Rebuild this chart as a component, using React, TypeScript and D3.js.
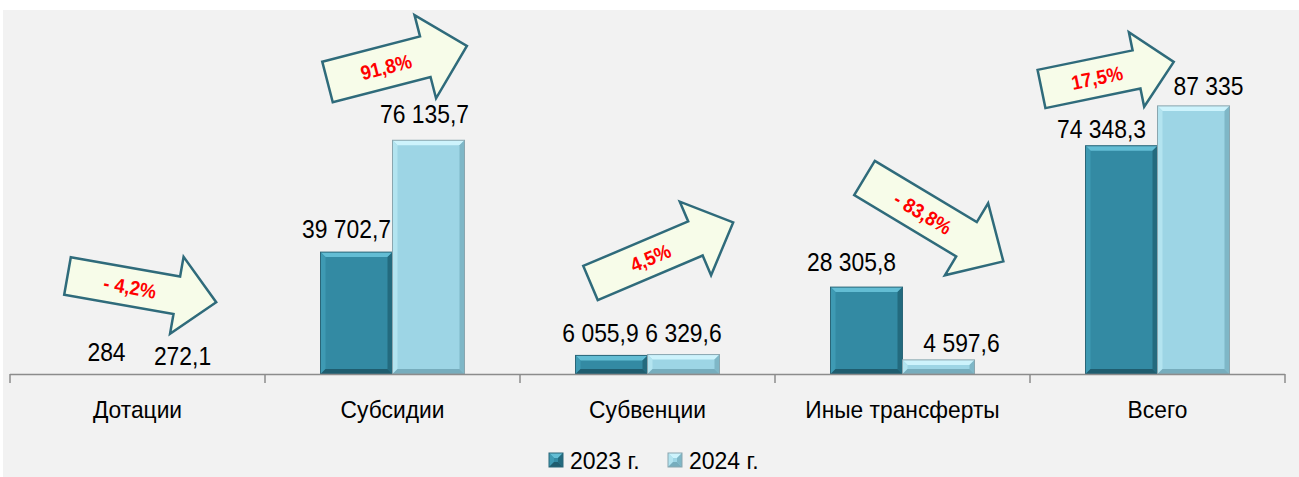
import React from "react";
import * as d3 from "d3";

// categories and series
const categories = ["Дотации", "Субсидии", "Субвенции", "Иные трансферты", "Всего"];
const seriesNames = ["2023 г.", "2024 г."];
const values2023 = [284, 39702.7, 6055.9, 28305.8, 74348.3];
const values2024 = [272.1, 76135.7, 6329.6, 4597.6, 87335];

// manual label nudges (px), like the hand-moved labels in the original
const labelNudge2023 = [[5, 0], [-10, -2], [-11, -1], [-15, -4], [-20, 4]];
const labelNudge2024 = [[9, 4], [-4, -5], [0, -1], [23, 4], [15, 1]];

// arrow layout: tail offset from group center, tail y, angle, length, shaft, head width, head length
const arrowLayout = [
  { dx: -70, y: 276, angle: 10, len: 151, t: 38, hw: 78, hl: 40 },
  { dx: -65, y: 82, angle: -14.5, len: 144, t: 42, hw: 86, hl: 43 },
  { dx: -57, y: 283, angle: -23, len: 155, t: 37, hw: 80, hl: 41 },
  { dx: -38, y: 178, angle: 31, len: 162, t: 40, hw: 84, hl: 43 },
  { dx: -116, y: 89, angle: -11.6, len: 135, t: 39, hw: 76, hl: 38 },
];

const W = 1299;
const H = 477;
const FONT = "'Liberation Sans', Arial, sans-serif";

const palette = [
  { main: "#338aa3", top: "#63bdd4", left: "#3e9ab3", right: "#236a7e", bottom: "#1f5d6f", stroke: "#2a6678" },
  { main: "#9dd5e5", top: "#cdf3fc", left: "#b3e4f0", right: "#7fb7c7", bottom: "#77adbd", stroke: "#8aa6af" },
];

const fmt = (v: number) => {
  const s = d3.format(",")(v);
  return s.replace(/,/g, " ").replace(".", ",");
};

const pct = (a: number, b: number) => {
  const p = (b / a - 1) * 100;
  const s = Math.abs(p).toFixed(1).replace(".", ",") + "%";
  return p < 0 ? "- " + s : s;
};

function BevelBar({ x, y, w, h, c }: any) {
  if (h < 1.5) return null;
  const b = Math.max(0, Math.min(5, h / 2, w / 2));
  return (
    <g>
      <rect x={x} y={y} width={w} height={h} fill={c.main} />
      <polygon points={`${x},${y} ${x + w},${y} ${x + w - b},${y + b} ${x + b},${y + b}`} fill={c.top} />
      <polygon points={`${x},${y} ${x + b},${y + b} ${x + b},${y + h - b} ${x},${y + h}`} fill={c.left} />
      <polygon points={`${x + w},${y} ${x + w},${y + h} ${x + w - b},${y + h - b} ${x + w - b},${y + b}`} fill={c.right} />
      <polygon points={`${x},${y + h} ${x + b},${y + h - b} ${x + w - b},${y + h - b} ${x + w},${y + h}`} fill={c.bottom} />
      <rect x={x} y={y} width={w} height={h} fill="none" stroke={c.stroke} strokeWidth={1} />
    </g>
  );
}

export default function App() {
  const baseY = 374;
  const x0 = d3.scaleBand().domain(categories).range([10, 1285]).padding(0);
  const x1 = d3.scaleBand().domain(seriesNames).range([0, 144]).padding(0);
  const y = d3.scaleLinear().domain([0, 100000]).range([baseY, 67]);

  const series = [values2023, values2024];
  const nudges = [labelNudge2023, labelNudge2024];

  return (
    <div style={{ position: "absolute", left: 0, top: 0 }}>
      <svg width={W} height={H} style={{ display: "block" }}>
        <rect x={0} y={0} width={W} height={H} fill="#ffffff" />
        <rect x={3} y={10} width={W - 3} height={H - 10} fill="#f2f2f2" />

        {/* bars */}
        {categories.map((cat, i) => {
          const cx = (x0(cat) as number) + x0.bandwidth() / 2;
          const gx = cx - 72;
          return (
            <g key={cat}>
              {series.map((vals, s) => {
                const bx = gx + (x1(seriesNames[s]) as number);
                const top = y(vals[i]);
                return (
                  <BevelBar key={s} x={bx} y={top} w={x1.bandwidth()} h={baseY - top} c={palette[s]} />
                );
              })}
            </g>
          );
        })}

        {/* axis */}
        <line x1={10} x2={1285} y1={baseY + 0.5} y2={baseY + 0.5} stroke="#8c8c8c" strokeWidth={1.5} />
        {[...categories.map((c) => x0(c) as number), 1285].map((tx, i) => (
          <line key={i} x1={tx} x2={tx} y1={baseY} y2={baseY + 9} stroke="#8c8c8c" strokeWidth={1.5} />
        ))}
        {categories.map((cat) => (
          <text
            key={cat}
            transform={`translate(${(x0(cat) as number) + x0.bandwidth() / 2},418) scale(0.95,1)`}
            textAnchor="middle"
            fontFamily={FONT}
            fontSize={24}
            fill="#000"
          >
            {cat}
          </text>
        ))}

        {/* value labels */}
        {categories.map((cat, i) => {
          const cx = (x0(cat) as number) + x0.bandwidth() / 2;
          return series.map((vals, s) => {
            const bx = cx - 72 + (x1(seriesNames[s]) as number) + x1.bandwidth() / 2;
            const [dx, dy] = nudges[s][i];
            return (
              <text
                key={cat + s}
                transform={`translate(${bx + dx},${y(vals[i]) - 12 + dy}) scale(0.88,1)`}
                textAnchor="middle"
                fontFamily={FONT}
                fontSize={26}
                fill="#000"
              >
                {fmt(vals[i])}
              </text>
            );
          });
        })}

        {/* change arrows */}
        {categories.map((cat, i) => {
          const a = arrowLayout[i];
          const cx = (x0(cat) as number) + x0.bandwidth() / 2;
          const L = a.len, t = a.t / 2, hw = a.hw / 2, hb = a.len - a.hl;
          const pts = [
            [0, -t], [hb, -t], [hb, -hw], [L, 0], [hb, hw], [hb, t], [0, t],
          ].map((p) => p.join(",")).join(" ");
          return (
            <g key={cat} transform={`translate(${cx + a.dx},${a.y}) rotate(${a.angle})`}>
              <polygon points={pts} fill="#f7fce9" stroke="#2f6b7b" strokeWidth={2.5} strokeLinejoin="miter" />
              <text
                transform={`translate(${L * 0.42},0) scale(0.92,1)`}
                dy="0.36em"
                textAnchor="middle"
                fontFamily={FONT}
                fontWeight="bold"
                fontSize={20}
                fill="#ff0000"
              >
                {pct(values2023[i], values2024[i])}
              </text>
            </g>
          );
        })}

        {/* legend */}
        {seriesNames.map((name, s) => {
          const lx = s === 0 ? 549 : 668;
          return (
            <g key={name}>
              <BevelBar x={lx} y={453} w={14} h={14} c={palette[s]} />
              <text x={lx + 21} y={469} fontFamily={FONT} fontSize={23} fill="#000">
                {name}
              </text>
            </g>
          );
        })}
      </svg>
    </div>
  );
}
